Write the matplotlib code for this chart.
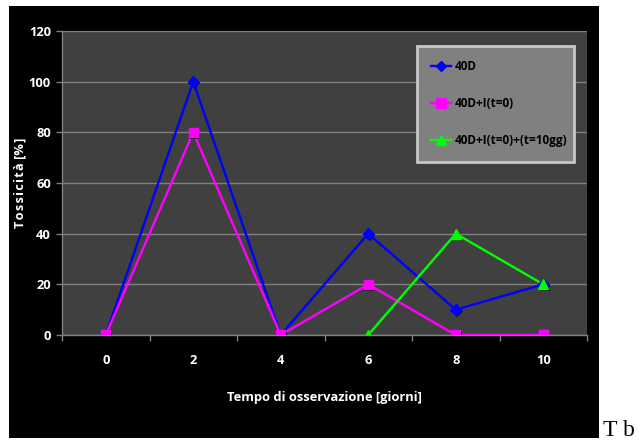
import numpy as np
import matplotlib
matplotlib.use("Agg")
import matplotlib.pyplot as plt
import matplotlib.patheffects as pe
from matplotlib.patches import Rectangle

# Giorni di osservazione e tossicità [%]
giorni = ["0", "2", "4", "6", "8", "10"]
tox_40d = [0, 100, 0, 40, 10, 20]
tox_40d_i = [0, 80, 0, 20, 0, 0]
tox_40d_i_10gg = [np.nan, np.nan, np.nan, 0, 40, 20]

labels = ["40D", "40D+I(t=0)", "40D+I(t=0)+(t=10gg)"]
colors = ["#0000ff", "#ff00ff", "#00ff00"]
markers = ["D", "s", "^"]
msizes = [5.5, 6.5, 7]

plt.rcParams["font.family"] = ["Open Sans", "DejaVu Sans"]
plt.rcParams["font.weight"] = "bold"

fig = plt.figure(figsize=(6.39, 4.41), dpi=100)
fig.patch.set_facecolor("white")

# black chart area behind the plot
fig.patches.append(Rectangle((9 / 639, 3 / 441), 590 / 639, 432 / 441,
                             transform=fig.transFigure, facecolor="black",
                             edgecolor="none", zorder=-10))

ax = fig.add_axes([62 / 639, 1 - 335 / 441, 525 / 639, 304 / 441])
ax.set_facecolor("#404040")

x = np.arange(len(giorni))
series = [tox_40d, tox_40d_i, tox_40d_i_10gg]
for vals, lab, col, mk, ms in zip(series, labels, colors, markers, msizes):
    ax.plot(x, vals, color=col, linewidth=1.7, zorder=3)
    ax.plot(x, vals, linestyle="none", marker=mk, markersize=ms,
            color=col, zorder=4,
            path_effects=[pe.SimplePatchShadow(offset=(1.2, -1.2),
                                               shadow_rgbFace="black", alpha=1),
                          pe.Normal()])
    # legend handle
    ax.plot([], [], color=col, linewidth=1.7, marker=mk, markersize=ms,
            label=lab)

ax.set_xlim(-0.5, len(giorni) - 0.5)
ax.set_ylim(0, 120)
ax.set_yticks(range(0, 121, 20))
ax.set_xticks(x)
ax.set_xticklabels(giorni)
ax.set_xticks(np.arange(-0.5, len(giorni), 1), minor=True)

ax.grid(axis="y", color="#808080", linewidth=1)
ax.set_axisbelow(True)

for s in ["top", "right"]:
    ax.spines[s].set_visible(False)
for s in ["left", "bottom"]:
    ax.spines[s].set_color("#808080")
    ax.spines[s].set_linewidth(1)

ax.tick_params(axis="y", colors="#808080", length=4, width=1, pad=4,
               labelcolor="white", labelsize=9.3)
ax.tick_params(axis="x", which="major", length=0, pad=14,
               labelcolor="white", labelsize=9.3)
ax.tick_params(axis="x", which="minor", colors="#808080", length=4, width=1)

# letter-spaced axis title
ylab = "\u200a".join("Tossicità") + " [%\u200a]"
ax.set_ylabel(ylab, color="white", fontsize=9.2, fontweight="bold")
ax.yaxis.set_label_coords(-0.068, 0.5)
ax.set_xlabel("Tempo di osservazione [giorni]", color="white", fontsize=9.3,
              fontweight="bold")
ax.xaxis.set_label_coords(0.5, -0.184)

leg = ax.legend(loc="upper left", bbox_to_anchor=(0.676, 0.951, 0.299, 0.0),
                mode="expand", borderaxespad=0, fancybox=False, framealpha=1,
                facecolor="#808080", edgecolor="#c8c8c8", fontsize=8.5,
                labelspacing=2.05, borderpad=1.2, handlelength=1.7,
                handletextpad=0.3, labelcolor="black")
leg.get_frame().set_linewidth(2)

fig.text(603 / 639, 0.0, "T b", family="Liberation Serif",
         fontweight="normal", fontsize=17, color="black",
         ha="left", va="bottom")

fig.savefig("out.png", dpi=100, facecolor=fig.get_facecolor())
